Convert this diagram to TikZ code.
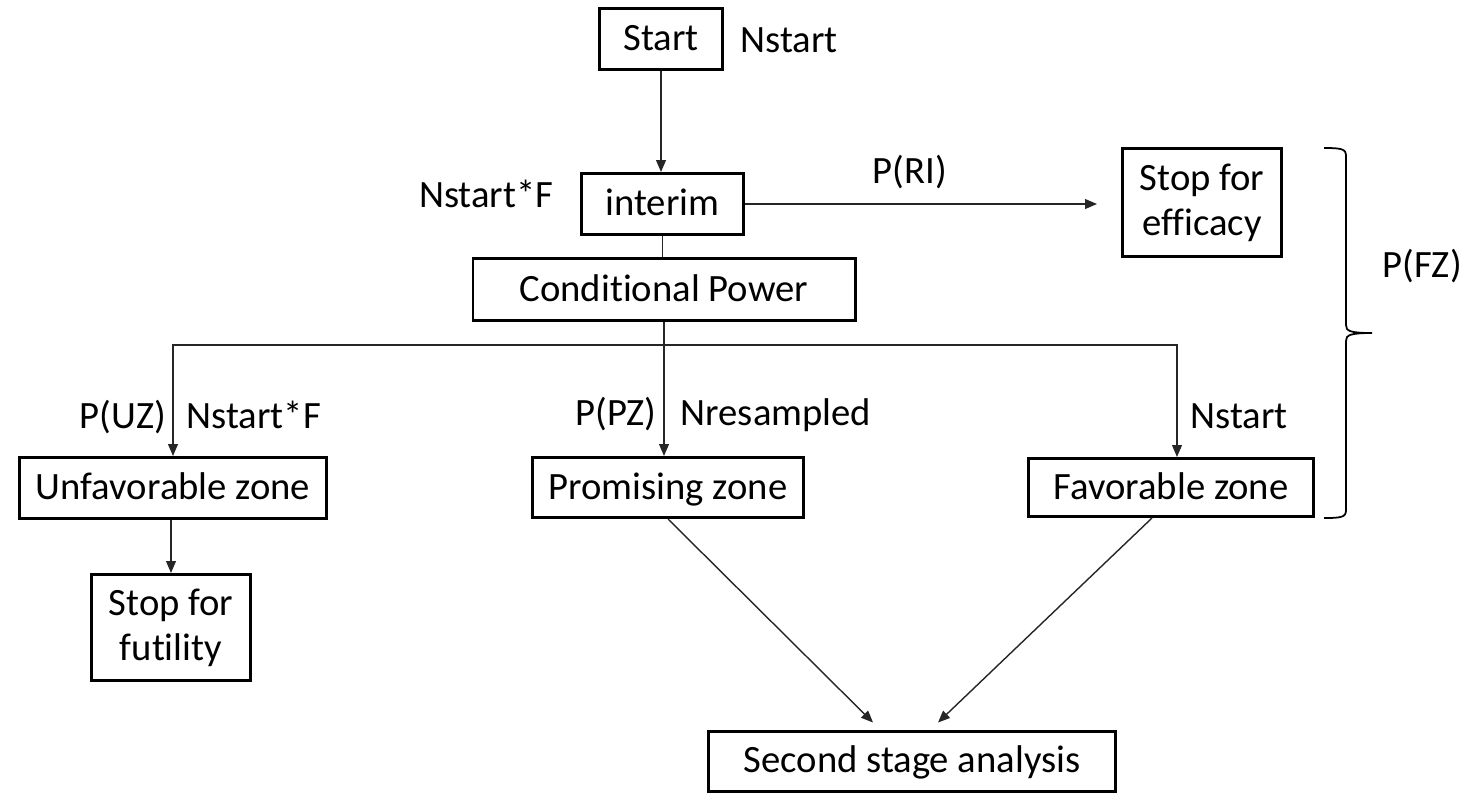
\documentclass[tikz,border=0pt]{standalone}
\usepackage{fontspec}
\setmainfont{Carlito}[Ligatures=NoCommon]
\usetikzlibrary{arrows.meta,positioning}

\begin{document}
\begin{tikzpicture}[>={Triangle[length=3.4pt,width=2.8pt]}, font=\fontsize{11}{12.8}\selectfont,
        box/.style={rectangle, draw, line width=0.85pt, inner sep=0pt, align=center},
        onebox/.style={box, text height=1.38ex, text depth=0pt},
        link/.style={line width=0.4pt, draw=black!85},
        lbl/.style={inner sep=0pt}]
        \useasboundingbox (0,0) rectangle (14.6,-7.93);

        % Boxes
        \node[onebox, minimum width=1.23cm, minimum height=0.61cm] (start) at (6.61,-0.39) {Start};
        \node[onebox, minimum width=1.62cm, minimum height=0.61cm] (interim) at (6.625,-2.04) {interim};
        \node[onebox, minimum width=3.82cm, minimum height=0.62cm] (power) at (6.64,-2.895) {Conditional Power};
        \node[box, minimum width=1.59cm, minimum height=1.08cm] (efficacy) at (12.02,-2.025) {Stop for\\efficacy};
        \node[onebox, minimum width=3.07cm, minimum height=0.61cm] (unfav) at (1.73,-4.88) {Unfavorable zone};
        \node[box, minimum width=1.59cm, minimum height=1.06cm] (futility) at (1.71,-6.275) {Stop for\\futility};
        \node[onebox, minimum width=2.71cm, minimum height=0.60cm] (prom) at (6.68,-4.875) {Promising zone};
        \node[onebox, minimum width=2.85cm, minimum height=0.58cm] (fav) at (11.71,-4.875) {Favorable zone};
        \node[onebox, minimum width=4.07cm, minimum height=0.60cm] (second) at (9.12,-7.61) {Second stage analysis};

        % Labels
        \node[lbl, anchor=base west] (nstart) at (7.40,-0.52) {Nstart};
        \node[lbl, anchor=base east] (nint) at (5.54,-2.07) {Nstart*F};
        \node[lbl, anchor=base] (pri) at (9.10,-1.83) {P(RI)};
        \node[lbl, anchor=base east] (puz) at (1.67,-4.28) {P(UZ)};
        \node[lbl, anchor=base west] (nuz) at (1.86,-4.28) {Nstart*F};
        \node[lbl, anchor=base east] (ppz) at (6.57,-4.25) {P(PZ)};
        \node[lbl, anchor=base west] (npz) at (6.80,-4.25) {Nresampled};
        \node[lbl, anchor=base west] (nfz) at (11.90,-4.28) {Nstart};
        \node[lbl, anchor=base west] (pfz) at (13.82,-2.77) {P(FZ)};

        % Connectors
        \coordinate (effend) at (10.97,-2.04);
        \coordinate (split) at ([yshift=-0.23cm]power.south);
        \draw[link, ->] (start) -- (start |- interim.north);
        \draw[link, ->] (interim.east) -- (effend);
        \draw[link] (interim.south) -- (interim.south |- power.north);
        \draw[link] (power.south) -- (split);
        \draw[link, ->] (split) -| (unfav.north);
        \draw[link, ->] (split) -- (split |- prom.north);
        \draw[link, ->] (split) -| ([xshift=0.06cm]fav.north);
        \draw[link, ->] (futility.north |- unfav.south) -- (futility.north);
        \draw[link, ->] (prom.south) -- ([shift={(-0.39,0.07)}]second.north);
        \draw[link, ->] ([xshift=-0.19cm]fav.south) -- ([shift={(0.26,0.07)}]second.north);

        % Brace
        \draw[line width=0.5pt] (13.24,-1.48) .. controls (13.42,-1.48) and (13.46,-1.49) .. (13.46,-1.56)
            -- (13.46,-3.25) .. controls (13.46,-3.31) and (13.50,-3.33) .. (13.72,-3.33)
            .. controls (13.50,-3.33) and (13.46,-3.35) .. (13.46,-3.41)
            -- (13.46,-5.10) .. controls (13.46,-5.17) and (13.42,-5.18) .. (13.24,-5.18);
\end{tikzpicture}
\end{document}
